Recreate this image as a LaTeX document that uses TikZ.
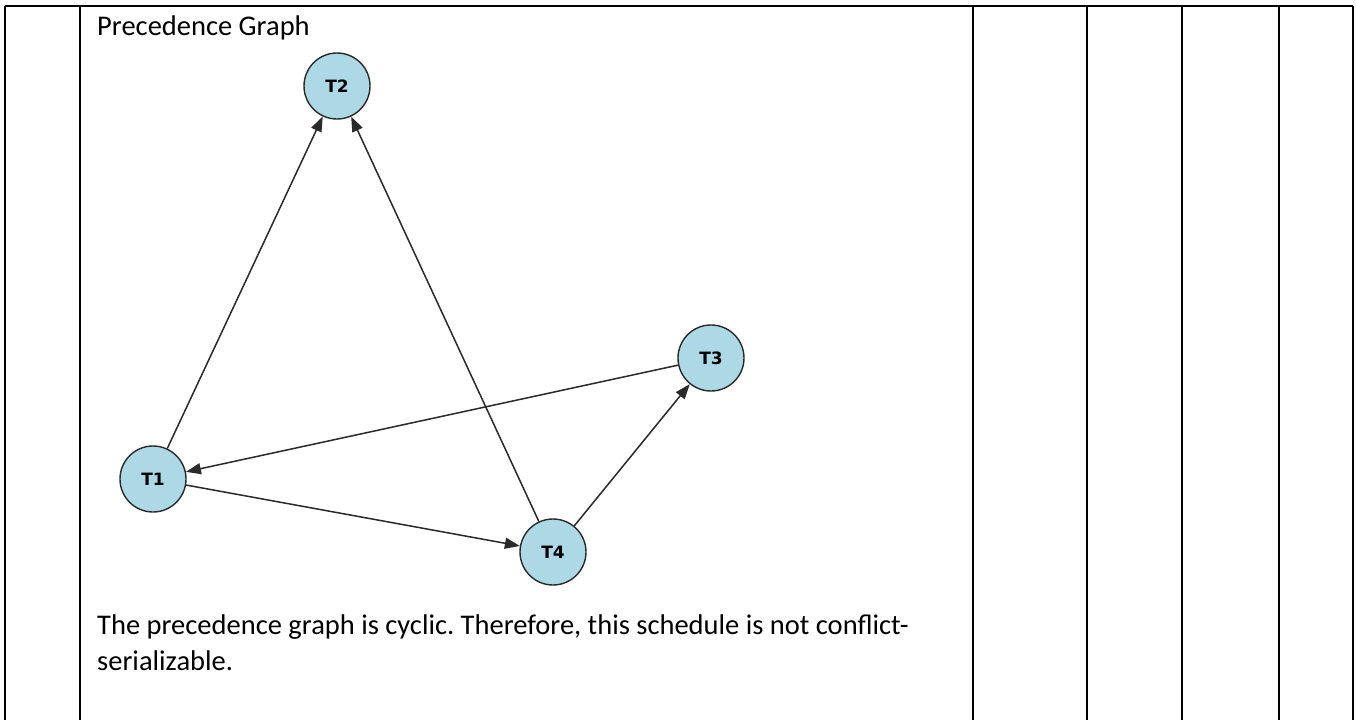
\documentclass[tikz,border=0pt]{standalone}
\usepackage{fontspec}
\setmainfont{Carlito}
\newfontfamily\labelfont{DejaVu Sans}
\usetikzlibrary{arrows.meta}
\frenchspacing
\definecolor{nodeblue}{HTML}{ADD8E6}
\definecolor{edgegray}{HTML}{2A2A2A}
\tikzstyle{txn}=[circle, draw=edgegray, line width=1.4pt, fill=nodeblue, minimum size=66pt, inner sep=0pt, font=\labelfont\bfseries\fontsize{17}{19}\selectfont]
\tikzstyle{edge}=[-{Triangle[length=15pt,width=11pt]}, line width=1.5pt, draw=edgegray, fill=black]
\tikzstyle{celltext}=[anchor=base west, inner sep=0pt, font=\fontsize{28.5}{34}\selectfont]

\begin{document}
\begin{tikzpicture}[x=1pt, y=-1pt]
\useasboundingbox (0,0) rectangle (1356,720);
% Table
    \draw[line width=2.2pt] (5,6) -- (1353,6);
    \foreach \xcol in {5,80,973,1087,1182,1279,1353}
        \draw[line width=2.2pt] (\xcol,6) -- (\xcol,720);
% Texts
    \node[celltext] (title) at (97,35) {Precedence Graph};
    \node[celltext] (note1) at (97,634) {The precedence graph is cyclic. Therefore, this schedule is not conflict-};
    \node[celltext] (note2) at (97,670) {serializable.};
% Transactions
    \node[txn] (t2) at (337,86) {T2};
    \node[txn] (t1) at (153,479) {T1};
    \node[txn] (t4) at (553,552) {T4};
    \node[txn] (t3) at (711,358) {T3};
% Conflicts
    \draw[edge] (t1) -- (t2);
    \draw[edge] (t4) -- (t2);
    \draw[edge] (t3) -- (t1);
    \draw[edge] (t1) -- (t4);
    \draw[edge] (t4) -- (t3);
\end{tikzpicture}
\end{document}
